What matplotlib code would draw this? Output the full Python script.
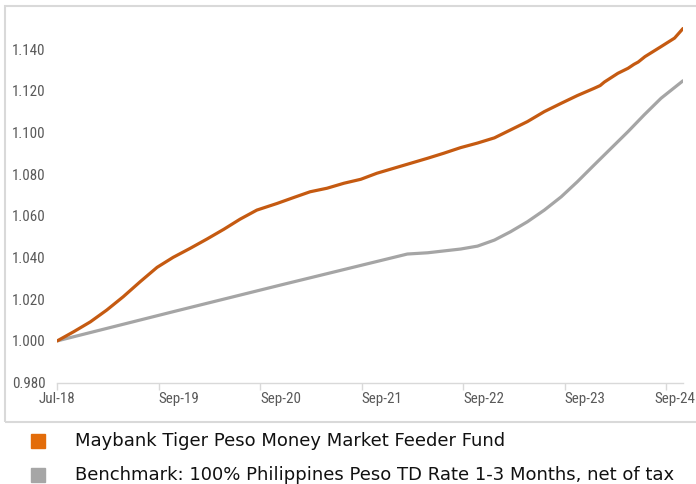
import matplotlib
matplotlib.use("Agg")
import matplotlib.pyplot as plt
from matplotlib import font_manager
from matplotlib.patches import Rectangle
from matplotlib.transforms import ScaledTranslation

# months since Jul-18
fund_months = [0, 1.9, 3.9, 5.85, 7.8, 9.8, 11.8, 13.7, 15.7, 17.7, 19.7, 21.6,
               23.6, 26.0, 28.0, 29.9, 31.9, 33.9, 35.9, 37.8, 39.8, 41.8, 43.8,
               45.7, 47.7, 49.7, 51.7, 53.6, 55.6, 57.6, 59.6, 61.5, 63.5, 64.2,
               64.7, 66.3, 67.5, 68.2, 68.7, 69.5, 71.4, 73.0, 74.0]
fund_values = [1.0000, 1.0043, 1.0091, 1.0148, 1.0212, 1.0284, 1.0353, 1.0401,
               1.0444, 1.0489, 1.0536, 1.0584, 1.0628, 1.0660, 1.0689, 1.0716,
               1.0733, 1.0757, 1.0776, 1.0805, 1.0829, 1.0853, 1.0877, 1.0901,
               1.0928, 1.0950, 1.0975, 1.1013, 1.1053, 1.1101, 1.1141, 1.1178,
               1.1213, 1.1226, 1.1243, 1.1285, 1.1309, 1.1328, 1.1339, 1.1365,
               1.1413, 1.1454, 1.1500]

bench_months = [0, 13.7, 26.4, 41.4, 43.8, 47.7, 49.7, 51.7, 53.6, 55.6, 57.6,
                59.6, 61.5, 63.5, 65.5, 67.5, 69.4, 71.4, 74.0]
bench_values = [1.0000, 1.0140, 1.0268, 1.0417, 1.0423, 1.0441, 1.0455, 1.0484,
                1.0524, 1.0572, 1.0628, 1.0692, 1.0764, 1.0845, 1.0925, 1.1005,
                1.1085, 1.1165, 1.1249]

tick_months = [0, 12, 24, 36, 48, 60, 72]
tick_labels = ["Jul-18", "Sep-19", "Sep-20", "Sep-21", "Sep-22", "Sep-23", "Sep-24"]
y_ticks = [0.98, 1.00, 1.02, 1.04, 1.06, 1.08, 1.10, 1.12, 1.14]

series_names = ["Maybank Tiger Peso Money Market Feeder Fund",
                "Benchmark: 100% Philippines Peso TD Rate 1-3 Months, net of tax"]

# pick a narrow font for the axis labels if one is around
installed = {f.name for f in font_manager.fontManager.ttflist}
tick_kw = {"family": "DejaVu Sans", "stretch": "condensed", "fontsize": 10}
for cand in ["Liberation Sans Narrow", "Roboto Condensed", "Open Sans Condensed"]:
    if cand in installed:
        tick_kw = {"family": cand, "fontsize": 10.8}
        break

W, H = 696, 484
fig = plt.figure(figsize=(W / 100, H / 100), dpi=100)

# outer chart border
fig.patches.append(Rectangle((4.5 / W, 1 - 421.5 / H), 720 / W, (421.5 - 5.7) / H,
                             transform=fig.transFigure, fill=False,
                             edgecolor="#d9d9d9", linewidth=1.5))

ax = fig.add_axes([57.3 / W, 1 - 382.5 / H, (683 - 57.3) / W, (382.5 - 7.7) / H])
ax.plot(bench_months, bench_values, color="#a5a5a5", linewidth=2.3,
        solid_capstyle="round")
ax.plot(fund_months, fund_values, color="#c55a11", linewidth=2.3,
        solid_capstyle="round")

ax.set_xlim(0, 74)
ax.set_ylim(0.98, 1.16)

for side in ["left", "top", "right"]:
    ax.spines[side].set_visible(False)
ax.spines["bottom"].set_color("#d9d9d9")
ax.spines["bottom"].set_linewidth(1.0)

ax.set_yticks(y_ticks)
ax.set_yticklabels([f"{v:.3f}" for v in y_ticks], color="#595959", **tick_kw)
ax.tick_params(axis="y", length=0, pad=8.5)

ax.set_xticks(tick_months)
ax.set_xticklabels(tick_labels, color="#595959", **tick_kw)
ax.tick_params(axis="x", length=5, width=1, color="#d9d9d9", pad=1.5)
xlabels = ax.get_xticklabels()
for i, lab in enumerate(xlabels):
    lab.set_ha("center" if i == 0 else "left")
# last label is pulled in so it fits inside the figure
last = xlabels[-1]
last.set_transform(last.get_transform() + ScaledTranslation(-12 / 100, 0, fig.dpi_scale_trans))

# legend below the chart box
leg_colors = ["#e36c09", "#a6a6a6"]
leg_y = [440.5, 475]
for name, col, yc in zip(series_names, leg_colors, leg_y):
    fig.patches.append(Rectangle((31 / W, 1 - (yc + 7) / H), 14 / W, 14 / H,
                                 transform=fig.transFigure, color=col))
    fig.text(75 / W, 1 - yc / H, name, fontsize=13, color="#111111",
             va="center", ha="left", family="DejaVu Sans")

fig.savefig("out.png", dpi=100)
